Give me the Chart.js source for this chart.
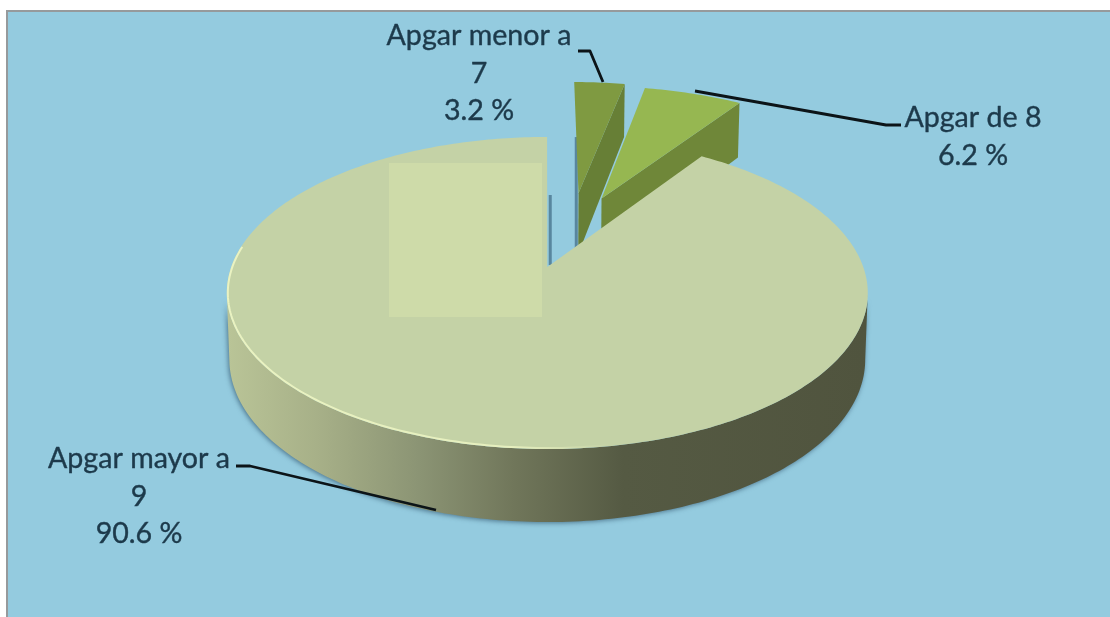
<!DOCTYPE html>
<html>
<head>
<meta charset="utf-8">
<title>Apgar</title>
<script src="https://cdn.jsdelivr.net/npm/chart.js@4/dist/chart.umd.min.js"></script>
<style>
  html, body { margin: 0; padding: 0; background: #fff; overflow: hidden; }
  #frame {
    position: absolute; left: 6px; top: 10px; width: 1104px; height: 607px;
    box-sizing: border-box; background: #94cbdf;
    border-top: 2px solid #969a9c; border-left: 2px solid #969a9c;
  }
  #apgar { position: absolute; left: 0; top: 0; }
</style>
</head>
<body>
<div id="frame"></div>
<canvas id="apgar" width="1110" height="617"></canvas>
<script>
const categories = ['Apgar menor a 7', 'Apgar de 8', 'Apgar mayor a 9'];
const percentages = [3.2, 6.2, 90.6];
const labelLines = [['Apgar menor a', '7'], ['Apgar de 8'], ['Apgar mayor a', '9']];

const faceColors = ['#7f9a41', '#96b751', '#c4d2a6'];
const cutColors = ['#677f36', '#6f8739', '#8a9470'];

// pie disc seen from above, perspective factor k
const disc = { cx: 546, cy: 267, rx: 316, ry: 151.7, k: 0.1667 };
// slices pulled out of the disc, in disc units
const explode = [[0.112, -0.53], [0.19, -0.488], [0.004, 0]];

// label anchors and leader lines
const labelPos = [[479, 36], [973, 118], [139, 459]];
const leaders = [
  [[578, 51], [590, 51], [603, 82]],
  [[695, 91], [886, 125], [901, 125]],
  [[436, 510], [250, 466], [236, 466]]
];

function project(u, v, z) {
  const d = 1 - disc.k * v;
  const depth = z ? 65 + 8 * v : 0;
  const shrink = z ? 0.992 : 1;
  return [disc.cx + disc.rx * u / d * shrink, disc.cy + disc.ry * v / d + depth];
}

function tracePath(ctx, pts) {
  ctx.beginPath();
  pts.forEach((p, i) => i ? ctx.lineTo(p[0], p[1]) : ctx.moveTo(p[0], p[1]));
  ctx.closePath();
}

// points along the rim of a slice
function rimAngles(arc) {
  const out = [];
  const steps = Math.ceil((arc.endAngle - arc.startAngle) * 60);
  for (let i = 0; i <= steps; i++) {
    out.push(arc.startAngle + (arc.endAngle - arc.startAngle) * i / steps);
  }
  return out;
}

const pie3d = {
  id: 'pie3d',
  // the arcs are only used for their angles, the tilted disc is painted here
  beforeDatasetDraw() {
    return false;
  },
  afterDatasetsDraw(chart) {
    const ctx = chart.ctx;
    chart.getDatasetMeta(0).data.forEach((arc, i) => {
      const [ox, oy] = explode[i];
      const at = (a, z) => project(ox + Math.cos(a), oy + Math.sin(a), z);
      const apexTop = project(ox, oy, 0);
      const apexLow = project(ox, oy, 1);
      const angles = rimAngles(arc);

      // soft shadow strip along the left cut edge
      ctx.save();
      ctx.strokeStyle = 'rgba(62,104,130,0.7)';
      ctx.lineWidth = 3;
      const edge = i === 2 ? at(arc.endAngle, 0) : at(arc.startAngle, 0);
      const sx = i === 2 ? apexLow[0] + 3 : apexLow[0] - 2;
      const sy = i === 2 ? apexTop[1] : apexLow[1];
      if (i !== 1) {
        ctx.beginPath();
        ctx.moveTo(sx, sy - 2);
        ctx.lineTo(sx, i === 2 ? sy - 72 : edge[1] + 55);
        ctx.stroke();
      }
      ctx.restore();

      // cut face behind the top of the slice
      if (i !== 2) {
        const endTop = at(arc.endAngle, 0);
        const endLow = at(arc.endAngle, 1);
        ctx.fillStyle = cutColors[i];
        tracePath(ctx, [apexTop, endTop, endLow, apexLow]);
        ctx.fill();
      }

      // outer wall, only the part that faces the viewer
      const front = angles.filter(a => Math.sin(a) > disc.k);
      if (front.length) {
        const wall = ctx.createLinearGradient(228, 0, 866, 0);
        wall.addColorStop(0, '#b9c497');
        wall.addColorStop(0.14, '#a7b088');
        wall.addColorStop(0.3, '#8b9474');
        wall.addColorStop(0.45, '#70765a');
        wall.addColorStop(0.62, '#555a43');
        wall.addColorStop(1, '#50543e');
        ctx.save();
        ctx.shadowColor = 'rgba(45,80,105,0.7)';
        ctx.shadowBlur = 5;
        ctx.shadowOffsetX = -1;
        ctx.shadowOffsetY = 1;
        ctx.fillStyle = wall;
        tracePath(ctx, front.map(a => at(a, 0)).concat(front.slice().reverse().map(a => at(a, 1))));
        ctx.fill();
        ctx.restore();
      }

      // top face
      const face = [apexTop].concat(angles.map(a => at(a, 0)));
      ctx.fillStyle = faceColors[i];
      tracePath(ctx, face);
      ctx.fill();

      // pale rim on the lit side of the big slice, kept inside the face
      if (front.length) {
        const rim = ctx.createLinearGradient(225, 0, 610, 0);
        rim.addColorStop(0, 'rgba(238,246,196,0.9)');
        rim.addColorStop(0.75, 'rgba(238,246,196,0.8)');
        rim.addColorStop(1, 'rgba(238,246,196,0)');
        ctx.save();
        tracePath(ctx, face);
        ctx.clip();
        ctx.strokeStyle = rim;
        ctx.lineWidth = 4;
        ctx.beginPath();
        angles.filter(a => Math.sin(a) > -0.15 && Math.cos(a) < 0.25).forEach((a, n) => {
          const p = at(a, 0);
          n ? ctx.lineTo(p[0], p[1]) : ctx.moveTo(p[0], p[1]);
        });
        ctx.stroke();
        ctx.restore();
      }
    });

    // lighter square pasted over the big slice
    ctx.fillStyle = '#cedba9';
    ctx.fillRect(389, 163, 153, 154);

    // leader lines
    ctx.strokeStyle = '#0c1418';
    ctx.lineWidth = 2.8;
    ctx.lineJoin = 'round';
    leaders.forEach(line => {
      ctx.beginPath();
      line.forEach((p, n) => n ? ctx.lineTo(p[0], p[1]) : ctx.moveTo(p[0], p[1]));
      ctx.stroke();
    });

    // labels
    ctx.fillStyle = '#1d3a4b';
    ctx.strokeStyle = '#1d3a4b';
    ctx.lineWidth = 0.4;
    ctx.font = '28.6px Lato, "Open Sans", sans-serif';
    ctx.textAlign = 'center';
    ctx.textBaseline = 'middle';
    categories.forEach((name, i) => {
      const lines = labelLines[i].concat(percentages[i].toFixed(1) + ' %');
      lines.forEach((text, n) => {
        const y = labelPos[i][1] + n * 37.5;
        ctx.fillText(text, labelPos[i][0], y);
        ctx.strokeText(text, labelPos[i][0], y);
      });
    });
  }
};

const apgarChart = new Chart(document.getElementById('apgar').getContext('2d'), {
  type: 'pie',
  data: {
    labels: categories,
    datasets: [{
      data: percentages,
      backgroundColor: faceColors,
      borderWidth: 0
    }]
  },
  options: {
    responsive: false,
    animation: false,
    plugins: {
      legend: { display: false },
      tooltip: { enabled: false }
    }
  },
  plugins: [pie3d]
});
</script>
</body>
</html>
